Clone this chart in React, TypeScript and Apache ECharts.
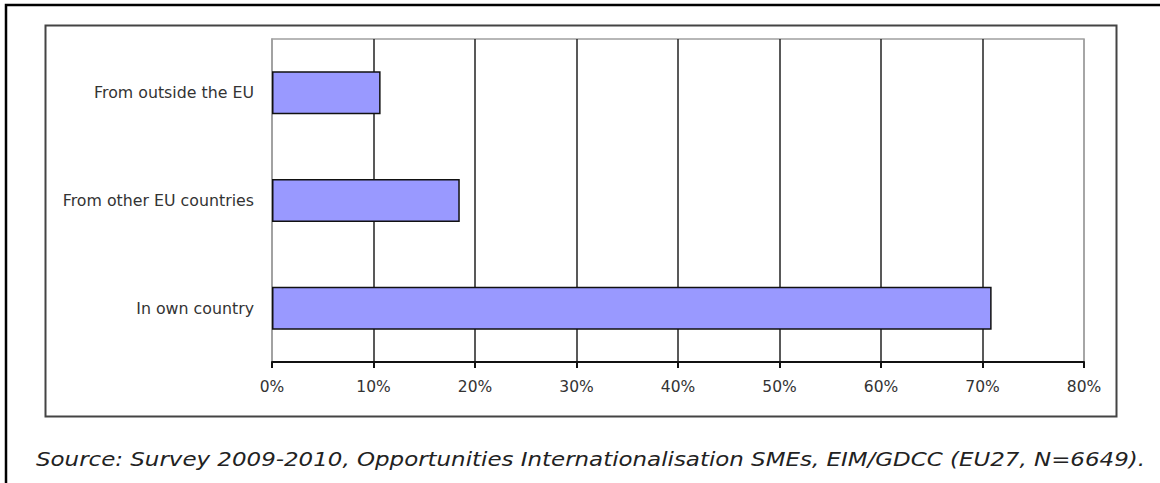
import React, { useEffect, useRef } from "react";
import * as echarts from "echarts";

const categories = ["In own country", "From other EU countries", "From outside the EU"];
const values = [70.9, 18.5, 10.7];
const xTicks = { min: 0, max: 80, interval: 10 };
const sourceText = "Source: Survey 2009-2010, Opportunities Internationalisation SMEs, EIM/GDCC (EU27, N=6649).";

export default function App() {
  const ref = useRef<HTMLDivElement>(null);
  useEffect(() => {
    if (!ref.current) return;
    const chart = echarts.init(ref.current, null, { renderer: "svg" });
    chart.setOption({
      animation: false,
      backgroundColor: "#fff",
      grid: {
        left: 272,
        right: 76,
        top: 39,
        bottom: 121,
        show: true,
        borderColor: "#a0a0a0",
        borderWidth: 1.5,
      },
      xAxis: {
        type: "value",
        min: xTicks.min,
        max: xTicks.max,
        interval: xTicks.interval,
        axisLine: { show: true, lineStyle: { color: "#111", width: 2 } },
        axisTick: { show: true, length: 6, lineStyle: { color: "#111", width: 2 } },
        axisLabel: {
          formatter: "{value}%",
          margin: 17,
          color: "#333",
          fontFamily: "DejaVu Sans",
          fontSize: 15.5,
        },
        splitLine: {
          show: true,
          lineStyle: {
            color: ["#a0a0a0", "#222", "#222", "#222", "#222", "#222", "#222", "#222", "#a0a0a0"],
            width: 1.5,
          },
        },
      },
      yAxis: {
        type: "category",
        data: categories,
        axisLine: { show: true, lineStyle: { color: "#a0a0a0", width: 1.5 } },
        axisTick: { show: false },
        axisLabel: {
          margin: 18,
          color: "#333",
          fontFamily: "DejaVu Sans",
          fontSize: 15.8,
        },
      },
      series: [
        {
          type: "bar",
          data: values,
          barWidth: "40%",
          itemStyle: { color: "#9999ff", borderColor: "#111", borderWidth: 1.5 },
        },
      ],
      graphic: [
        {
          type: "rect",
          shape: { x: 6, y: 5, width: 1300, height: 700 },
          style: { fill: "none", stroke: "#000", lineWidth: 2.5 },
          silent: true,
        },
        {
          type: "rect",
          shape: { x: 45.5, y: 25.5, width: 1071, height: 391 },
          style: { fill: "none", stroke: "#444", lineWidth: 2 },
          silent: true,
        },
        {
          type: "text",
          x: 36,
          y: 449,
          scaleX: 1.147,
          style: {
            text: sourceText,
            fill: "#222",
            font: "italic 20px 'DejaVu Sans'",
          },
        },
      ],
    });
    return () => chart.dispose();
  }, []);
  return (
    <div
      ref={ref}
      style={{ position: "fixed", left: 0, top: 0, width: 1160, height: 483 }}
    />
  );
}
